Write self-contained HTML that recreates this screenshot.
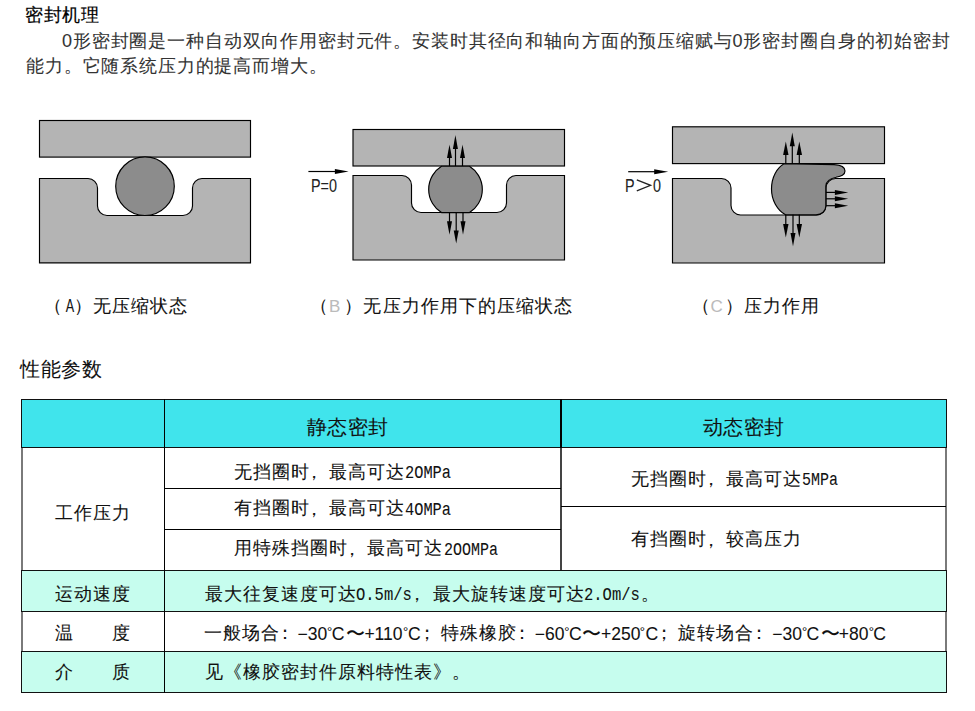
<!DOCTYPE html>
<html><head><meta charset="utf-8">
<style>
html,body{margin:0;padding:0;background:#fff;}
body{width:975px;height:711px;position:relative;overflow:hidden;font-family:"Liberation Sans",sans-serif;color:#000;}
.t{position:absolute;white-space:nowrap;line-height:1;-webkit-text-stroke:0.08px currentColor;}
.cell{position:absolute;box-sizing:border-box;}
</style></head><body>
<svg width="975" height="711" style="position:absolute;left:0;top:0">
<defs>
<marker id="ah" viewBox="0 0 10 10" refX="10" refY="5" markerWidth="10" markerHeight="10" markerUnits="userSpaceOnUse" orient="auto"><path d="M0,0 L10,5 L0,10 z" fill="#000"/></marker>
</defs>
<g stroke="#000" stroke-width="1.15" fill="#b4b4b4">
<!-- A -->
<rect x="39.5" y="120.5" width="211" height="36.6"/>
<path d="M39.5,178.5 H88 A9.5,9.5 0 0 1 97.5,188 V206 A9.5,9.5 0 0 0 107,215.5 H183 A9.5,9.5 0 0 0 192.5,206 V188 A9.5,9.5 0 0 1 202,178.5 H250.5 V262.8 H39.5 Z"/>
<circle cx="145" cy="186.2" r="29.3" fill="#8c8c8c"/>
<!-- B -->
<rect x="353" y="129.5" width="211.5" height="36.5"/>
<path d="M353,175.5 H402 A9.5,9.5 0 0 1 411.5,185 V203 A9.5,9.5 0 0 0 421,212.5 H497 A9.5,9.5 0 0 0 506.5,203 V185 A9.5,9.5 0 0 1 516,175.5 H564.5 V260 H353 Z"/>
<path d="M441.5,166.2 H469.5 A27.4,27.4 0 0 1 469.5,212.6 H441.5 A27.4,27.4 0 0 1 441.5,166.2 Z" fill="#8c8c8c"/>
<!-- C -->
<rect x="672.5" y="126.8" width="212" height="36.8"/>
<path d="M672.5,178.5 H721.5 A9.5,9.5 0 0 1 731,188 V205.5 A9.5,9.5 0 0 0 740.5,215 H816.5 A9.5,9.5 0 0 0 826,205.5 V188 A9.5,9.5 0 0 1 835.5,178.5 H884.5 V263 H672.5 Z"/>
<path d="M784,163.8 L834,164.6 C842,165 845,167 845,171 C845,175 841,176 836,177.2 C830,178.5 826,181 825.8,186 L825.8,206 C825.8,211 822,214.8 816,214.8 L785.5,214.8 C777,210 771.5,200 771.5,189 C771.5,177 777,168 784,163.8 Z" fill="#8c8c8c"/>
</g>
<g stroke="#000" stroke-width="1.2" fill="none">
<!-- B arrows -->
<line x1="449.5" y1="166" x2="449.5" y2="150"/>
<line x1="455.5" y1="166" x2="455.5" y2="142"/>
<line x1="462.5" y1="166" x2="462.5" y2="150"/>
<line x1="449.5" y1="212.5" x2="449.5" y2="228"/>
<line x1="456.2" y1="212.5" x2="456.2" y2="236"/>
<line x1="463" y1="212.5" x2="463" y2="228"/>
<!-- C arrows -->
<line x1="785.8" y1="163.8" x2="785.8" y2="148"/>
<line x1="792.3" y1="163.8" x2="792.3" y2="140"/>
<line x1="799.3" y1="163.8" x2="799.3" y2="148"/>
<line x1="785.8" y1="214.8" x2="785.8" y2="230"/>
<line x1="793" y1="214.8" x2="793" y2="238"/>
<line x1="799.3" y1="214.8" x2="799.3" y2="230"/>
<line x1="826" y1="192.4" x2="840" y2="192.4"/>
<line x1="826" y1="198.8" x2="840" y2="198.8"/>
<line x1="826" y1="205.7" x2="840" y2="205.7"/>
<!-- pressure arrows -->
<line x1="308.4" y1="171.5" x2="340" y2="171.5"/>
<line x1="628.2" y1="171.7" x2="660" y2="171.7"/>
</g>
<g fill="#000">
<!-- B up heads -->
<path d="M449.5,144.4 L452,157.9 L447,157.9 Z"/>
<path d="M455.4,135 L457.9,148.9 L452.9,148.9 Z"/>
<path d="M462.5,144.4 L465,157.9 L460,157.9 Z"/>
<!-- B down heads -->
<path d="M449.5,234.7 L452,221.2 L447,221.2 Z"/>
<path d="M456.2,243.5 L458.7,230.5 L453.7,230.5 Z"/>
<path d="M463,234.7 L465.5,221.2 L460.5,221.2 Z"/>
<!-- C up heads -->
<path d="M785.8,141.5 L788.5,155 L783.1,155 Z"/>
<path d="M792.3,132.6 L794.8,146.2 L789.8,146.2 Z"/>
<path d="M799.3,141.5 L802,155 L796.6,155 Z"/>
<!-- C down heads -->
<path d="M785.8,237.5 L788.5,224 L783.1,224 Z"/>
<path d="M793,246.5 L795.5,233 L790.5,233 Z"/>
<path d="M799.3,237.5 L802,224 L796.6,224 Z"/>
<!-- C right heads -->
<path d="M848.2,192.4 L834.9,189.9 L834.9,194.9 Z"/>
<path d="M848.2,198.8 L834.9,196.3 L834.9,201.3 Z"/>
<path d="M848.2,205.7 L834.9,203.2 L834.9,208.2 Z"/>
<!-- pressure heads -->
<path d="M348.6,171.5 L334.9,169 L334.9,174 Z"/>
<path d="M668.2,171.7 L654.2,169.2 L654.2,174.2 Z"/>
</g>
<polyline points="636.8,179.8 650.6,185.3 636.8,190.8" fill="none" stroke="#222" stroke-width="1.3"/>
</svg>
<!-- table -->
<div class="cell" style="left:21px;top:447px;width:2px;height:246px;background:#7a7a7a"></div>
<div class="cell" style="left:945px;top:447px;width:2px;height:246px;background:#7a7a7a"></div>
<div class="cell" style="left:21px;top:399px;width:926px;height:49px;background:#40e4ec;border:1.5px solid #111"></div>
<div class="cell" style="left:21px;top:569.5px;width:926px;height:42px;background:#c6fdee;border:1.5px solid #111"></div>
<div class="cell" style="left:21px;top:650.5px;width:926px;height:42px;background:#c6fdee;border:1.5px solid #111"></div>
<div class="cell" style="left:164px;top:399px;width:1.2px;height:294px;background:#000"></div>
<div class="cell" style="left:560px;top:399px;width:1.5px;height:49px;background:#000"></div>
<div class="cell" style="left:560px;top:448px;width:1.8px;height:122px;background:#444"></div>
<div class="cell" style="left:165px;top:488px;width:396px;height:1.2px;background:#000"></div>
<div class="cell" style="left:165px;top:528.5px;width:396px;height:1.2px;background:#000"></div>
<div class="cell" style="left:561px;top:505.5px;width:385px;height:1.2px;background:#000"></div>

<div class="t" style="left:25px;top:6px;font-size:18px;letter-spacing:0.6px;color:#000;-webkit-text-stroke:0.2px #000;">密封机理</div>
<div class="t" style="left:62px;top:32px;font-size:18px;letter-spacing:0.85px;color:#333;">0形密封圈是一种自动双向作用密封元件。安装时其径向和轴向方面的预压缩赋与0形密封圈自身的初始密封</div>
<div class="t" style="left:26px;top:57px;font-size:18px;letter-spacing:0.85px;color:#333;">能力。它随系统压力的提高而增大。</div>
<div class="t" style="left:310.5px;top:178px;font-size:17.5px;letter-spacing:0px;color:#222;transform:scaleX(0.82);transform-origin:0 0;">P=0</div>
<div class="t" style="left:625px;top:178px;font-size:17.5px;letter-spacing:0px;color:#222;transform:scaleX(0.82);transform-origin:0 0;">P</div>
<div class="t" style="left:653px;top:178px;font-size:17.5px;letter-spacing:0px;color:#222;transform:scaleX(0.82);transform-origin:0 0;">0</div>
<div class="t" style="left:43.7px;top:297px;font-size:18px;letter-spacing:1px;color:#111;">（<span style="display:inline-block;letter-spacing:0;font-size:17.5px;transform:scaleX(.72);margin-left:1px;margin-right:-1px">A</span>）无压缩状态</div>
<div class="t" style="left:310px;top:297px;font-size:18px;letter-spacing:1.05px;color:#111;">（<span style="color:#bbb;font-size:17px;letter-spacing:4px">B</span>）无压力作用下的压缩状态</div>
<div class="t" style="left:691.5px;top:297px;font-size:18px;letter-spacing:1px;color:#111;">（<span style="color:#bbb;font-size:17px;letter-spacing:2.5px">C</span>）压力作用</div>
<div class="t" style="left:20px;top:359px;font-size:20px;letter-spacing:0.6px;color:#111;">性能参数</div>
<div class="t" style="left:306.5px;top:417px;font-size:20px;letter-spacing:0.6px;color:#111;">静态密封</div>
<div class="t" style="left:702.5px;top:417px;font-size:20px;letter-spacing:0.6px;color:#111;">动态密封</div>
<div class="t" style="left:234px;top:462.5px;font-size:18px;letter-spacing:1.0px;color:#111;">无挡圈时<span style="position:relative;left:-5.5px;top:0.5px">，</span>最高可达</div>
<div class="t" style="left:405px;top:464.0px;font-size:18px;color:#111;font-family:'Liberation Mono';transform:scaleX(0.8519);transform-origin:0 0">2OMPa</div>
<div class="t" style="left:234px;top:499px;font-size:18px;letter-spacing:1.0px;color:#111;">有挡圈时<span style="position:relative;left:-5.5px;top:0.5px">，</span>最高可达</div>
<div class="t" style="left:405px;top:500.5px;font-size:18px;color:#111;font-family:'Liberation Mono';transform:scaleX(0.8519);transform-origin:0 0">4OMPa</div>
<div class="t" style="left:234px;top:539px;font-size:18px;letter-spacing:1.0px;color:#111;">用特殊挡圈时<span style="position:relative;left:-5.5px;top:0.5px">，</span>最高可达</div>
<div class="t" style="left:443.5px;top:540.5px;font-size:18px;color:#111;font-family:'Liberation Mono';transform:scaleX(0.8333);transform-origin:0 0">2OOMPa</div>
<div class="t" style="left:631px;top:469.5px;font-size:18px;letter-spacing:1.0px;color:#111;">无挡圈时<span style="position:relative;left:-5.5px;top:0.5px">，</span>最高可达</div>
<div class="t" style="left:801.5px;top:471px;font-size:18px;color:#111;font-family:'Liberation Mono';transform:scaleX(0.8333);transform-origin:0 0">5MPa</div>
<div class="t" style="left:631px;top:530px;font-size:18px;letter-spacing:1.0px;color:#111;">有挡圈时<span style="position:relative;left:-5.5px;top:0.5px">，</span>较高压力</div>
<div class="t" style="left:54.5px;top:504px;font-size:18px;letter-spacing:1.0px;color:#111;">工作压力</div>
<div class="t" style="left:55px;top:584.5px;font-size:18px;letter-spacing:1.0px;color:#111;">运动速度</div>
<div class="t" style="left:55px;top:623.5px;font-size:18px;letter-spacing:1.0px;color:#111;">温　　度</div>
<div class="t" style="left:55px;top:662.5px;font-size:18px;letter-spacing:1.0px;color:#111;">介　　质</div>
<div class="t" style="left:204.5px;top:584.5px;font-size:18px;letter-spacing:1.0px;color:#111;">最大往复速度可达</div>
<div class="t" style="left:356px;top:586.0px;font-size:18px;color:#111;font-family:'Liberation Mono';transform:scaleX(0.8611);transform-origin:0 0">O.5m/s</div>
<div class="t" style="left:413.5px;top:584.5px;font-size:18px;letter-spacing:1.0px;color:#111;"><span style="position:relative;left:-5.5px;top:0.5px">，</span>最大旋转速度可达</div>
<div class="t" style="left:584px;top:586.0px;font-size:18px;color:#111;font-family:'Liberation Mono';transform:scaleX(0.8611);transform-origin:0 0">2.Om/s</div>
<div class="t" style="left:641px;top:584.5px;font-size:18px;letter-spacing:1.0px;color:#111;">。</div>
<div class="t" style="left:204px;top:623.5px;font-size:18px;letter-spacing:1.0px;color:#111;">一般场合<span style="position:relative;left:-4.5px;top:0px">：</span></div>
<div class="t" style="left:422px;top:623.5px;font-size:18px;letter-spacing:1.0px;color:#111;"><span style="position:relative;left:-4px;top:0px">；</span>特殊橡胶<span style="position:relative;left:-4.5px;top:0px">：</span></div>
<div class="t" style="left:659px;top:623.5px;font-size:18px;letter-spacing:1.0px;color:#111;"><span style="position:relative;left:-4px;top:0px">；</span>旋转场合<span style="position:relative;left:-4.5px;top:0px">：</span></div>
<div class="t" style="left:297.6px;top:625.5px;font-size:17.5px;letter-spacing:0px;color:#111;">−30</div>
<div class="t" style="left:327px;top:625px;font-size:13px;letter-spacing:0px;color:#111;">°</div>
<div class="t" style="left:331.8px;top:625.5px;font-size:17.5px;letter-spacing:0px;color:#111;">C</div>
<div class="t" style="left:346px;top:623.7px;font-size:19px;letter-spacing:0px;color:#111;">〜</div>
<div class="t" style="left:364.4px;top:625.5px;font-size:17.5px;letter-spacing:0px;color:#111;">+110</div>
<div class="t" style="left:403px;top:625px;font-size:13px;letter-spacing:0px;color:#111;">°</div>
<div class="t" style="left:408px;top:625.5px;font-size:17.5px;letter-spacing:0px;color:#111;">C</div>
<div class="t" style="left:534.7px;top:625.5px;font-size:17.5px;letter-spacing:0px;color:#111;">−60</div>
<div class="t" style="left:564.2px;top:625px;font-size:13px;letter-spacing:0px;color:#111;">°</div>
<div class="t" style="left:569px;top:625.5px;font-size:17.5px;letter-spacing:0px;color:#111;">C</div>
<div class="t" style="left:582.3px;top:623.7px;font-size:19px;letter-spacing:0px;color:#111;">〜</div>
<div class="t" style="left:601px;top:625.5px;font-size:17.5px;letter-spacing:0px;color:#111;">+250</div>
<div class="t" style="left:639.7px;top:625px;font-size:13px;letter-spacing:0px;color:#111;">°</div>
<div class="t" style="left:645.4px;top:625.5px;font-size:17.5px;letter-spacing:0px;color:#111;">C</div>
<div class="t" style="left:772.2px;top:625.5px;font-size:17.5px;letter-spacing:0px;color:#111;">−30</div>
<div class="t" style="left:802px;top:625px;font-size:13px;letter-spacing:0px;color:#111;">°</div>
<div class="t" style="left:806.4px;top:625.5px;font-size:17.5px;letter-spacing:0px;color:#111;">C</div>
<div class="t" style="left:820.7px;top:623.7px;font-size:19px;letter-spacing:0px;color:#111;">〜</div>
<div class="t" style="left:838.7px;top:625.5px;font-size:17.5px;letter-spacing:0px;color:#111;">+80</div>
<div class="t" style="left:868.8px;top:625px;font-size:13px;letter-spacing:0px;color:#111;">°</div>
<div class="t" style="left:873.2px;top:625.5px;font-size:17.5px;letter-spacing:0px;color:#111;">C</div>
<div class="t" style="left:204.5px;top:662.5px;font-size:18px;letter-spacing:1.0px;color:#111;">见《橡胶密封件原料特性表》。</div>
</body></html>
